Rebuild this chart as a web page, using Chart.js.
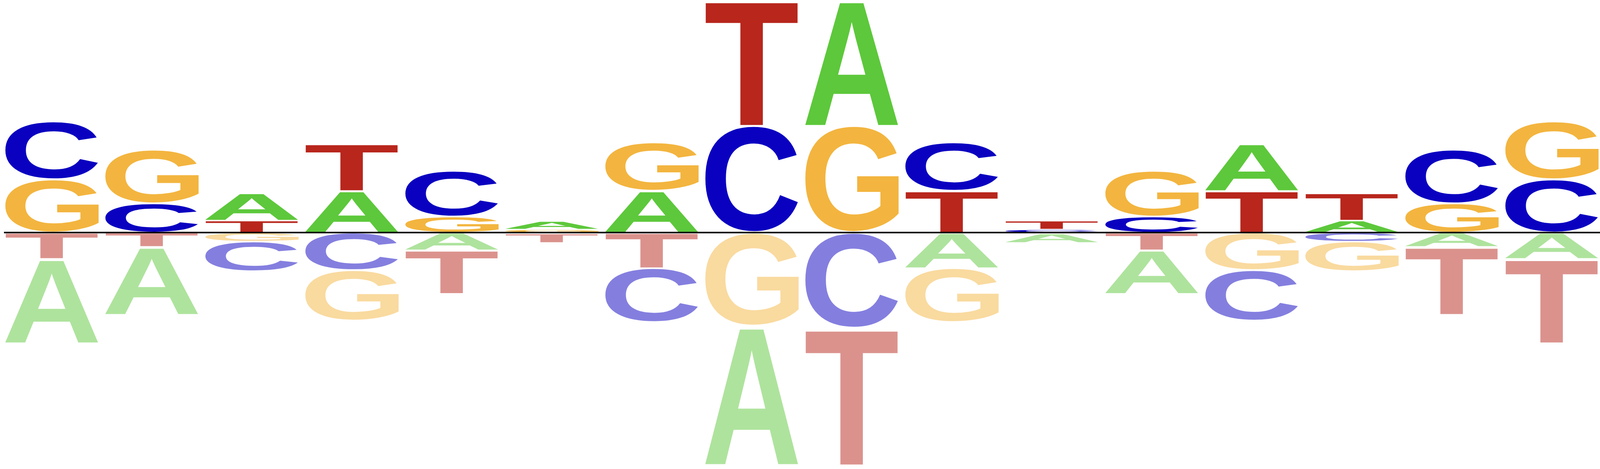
<!DOCTYPE html>
<html>
<head>
<meta charset="utf-8">
<title>Sequence logo</title>
<script src="https://cdn.jsdelivr.net/npm/chart.js"></script>
<style>
  html, body { margin: 0; padding: 0; background: #fff; overflow: hidden; }
  #wrap { width: 100vw; height: 100vh; position: relative; }
</style>
</head>
<body>
<div id="wrap"><canvas id="logoChart"></canvas></div>
<script>
// positions along the motif
const positions = [1, 2, 3, 4, 5, 6, 7, 8, 9, 10, 11, 12, 13, 14, 15, 16];

// signed letter heights (bits): > 0 enriched, < 0 depleted
const A = [-0.725, -0.584, 0.236, 0.359, -0.151, 0.072, 0.359, -1.193, 1.08, -0.305, -0.08, -0.375, 0.406, 0.104, -0.122, -0.225];
const C = [0.499, 0.25, -0.255, -0.323, 0.394, -0.008, -0.466, 0.92, -0.822, 0.417, 0.027, 0.137, -0.435, -0.077, 0.463, 0.457];
const G = [0.457, 0.463, -0.077, -0.435, 0.137, 0.027, 0.417, -0.804, 0.92, -0.466, -0.008, 0.394, -0.323, -0.255, 0.25, 0.499];
const T = [-0.225, -0.122, 0.104, 0.406, -0.375, -0.08, -0.305, 1.08, -1.178, 0.359, 0.075, -0.151, 0.359, 0.236, -0.584, -0.725];

const letterColors = { A: "#5DC83B", C: "#0A00C0", G: "#F3B53F", T: "#B8261C" };

// one dataset per rank, smallest letter sits next to the zero line
const series = { A: A, C: C, G: G, T: T };
const rankLetters = [[], [], [], []];
const rankValues = [[], [], [], []];
positions.forEach(function (p, i) {
  const col = Object.keys(series).map(function (l) { return { l: l, v: series[l][i] }; });
  col.sort(function (a, b) { return Math.abs(a.v) - Math.abs(b.v); });
  col.forEach(function (item, r) {
    rankLetters[r].push(item.l);
    rankValues[r].push({ x: p, y: item.v });
  });
});

const datasets = rankValues.map(function (vals, r) {
  return {
    label: "rank " + (r + 1),
    data: vals,
    letters: rankLetters[r],
    backgroundColor: "rgba(0,0,0,0)",
    borderWidth: 0
  };
});

// stretch a glyph so its ink fills the box
function drawGlyph(ctx, letter, color, alpha, x0, y0, w, h) {
  ctx.font = 'bold 400px "Liberation Sans"';
  const m = ctx.measureText(letter);
  const gw = m.actualBoundingBoxLeft + m.actualBoundingBoxRight;
  const gh = m.actualBoundingBoxAscent + m.actualBoundingBoxDescent;
  ctx.save();
  ctx.globalAlpha = alpha;
  ctx.translate(x0, y0);
  ctx.scale(w / gw, h / gh);
  ctx.fillStyle = color;
  ctx.textAlign = "left";
  ctx.textBaseline = "alphabetic";
  ctx.fillText(letter, m.actualBoundingBoxLeft, m.actualBoundingBoxAscent);
  ctx.restore();
}

const logoLetters = {
  id: "logoLetters",
  afterDatasetsDraw: function (chart) {
    const ctx = chart.ctx;
    let firstLeft = chart.chartArea.left;
    chart.data.datasets.forEach(function (ds, di) {
      const meta = chart.getDatasetMeta(di);
      meta.data.forEach(function (bar, i) {
        const v = ds.data[i].y;
        const top = Math.min(bar.y, bar.base) + 1.5;
        const bottom = Math.max(bar.y, bar.base) - 1.5;
        const left = bar.x - bar.width / 2;
        if (di === 0 && i === 0) firstLeft = left;
        if (bottom - top < 1) return;
        const l = ds.letters[i];
        drawGlyph(ctx, l, letterColors[l], v < 0 ? 0.5 : 1, left, top, bar.width, bottom - top);
      });
    });
    // zero line
    const y0 = chart.scales.y.getPixelForValue(0);
    ctx.save();
    ctx.strokeStyle = "#000";
    ctx.lineWidth = 4;
    ctx.beginPath();
    ctx.moveTo(firstLeft, y0);
    ctx.lineTo(chart.chartArea.right, y0);
    ctx.stroke();
    ctx.restore();
  }
};

new Chart(document.getElementById("logoChart"), {
  type: "bar",
  data: { datasets: datasets },
  plugins: [logoLetters],
  options: {
    responsive: true,
    maintainAspectRatio: false,
    animation: false,
    devicePixelRatio: 1,
    layout: { padding: 0 },
    barThickness: "flex",
    categoryPercentage: 1,
    barPercentage: 0.95,
    plugins: { legend: { display: false }, tooltip: { enabled: false } },
    scales: {
      x: { type: "linear", offset: false, min: 0.485, max: 16.485, stacked: true, display: false },
      y: { stacked: true, min: -2.0336, max: 2.0, display: false }
    }
  }
});
</script>
</body>
</html>
